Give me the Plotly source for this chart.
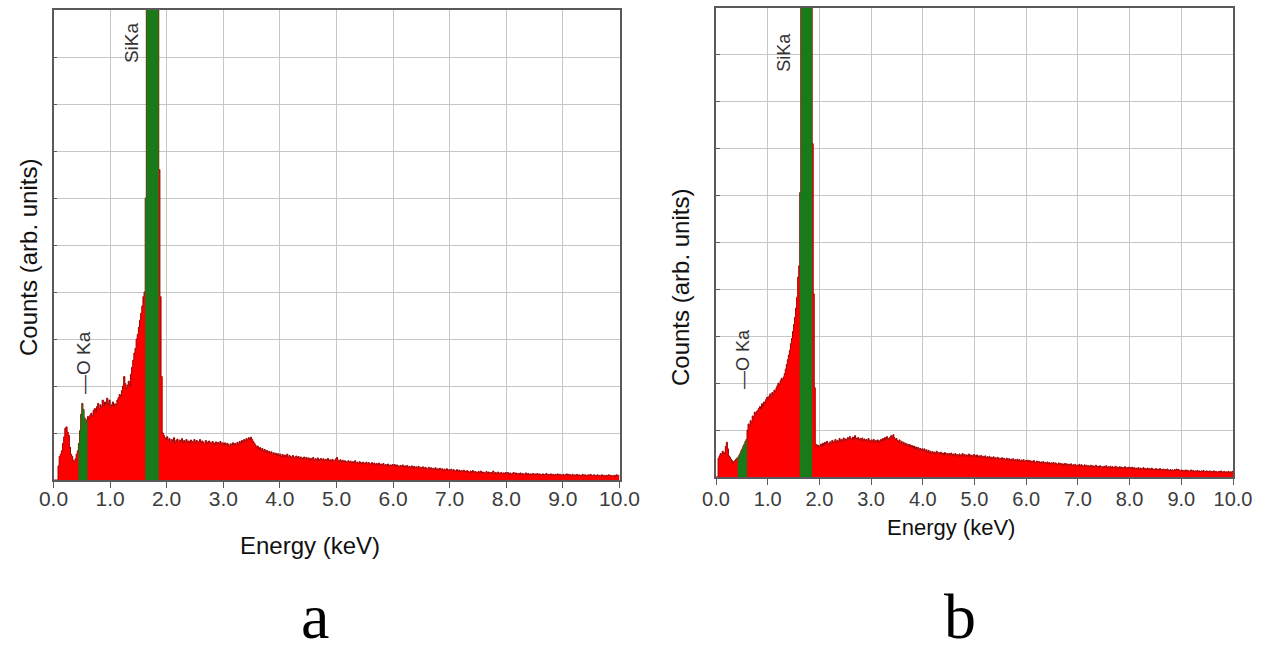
import plotly.graph_objects as go

# ---------------- data ----------------
CHANNEL_KEV = 0.02  # energy width of one spectrum channel

# panel a: counts per 0.02 keV channel (grid units), 0.0 -> 10.0 keV
counts_a = [
    0, 0, 0, 0, 0.3,  0.5, 0.55, 0.62, 0.78, 0.92,  1.1, 1.13, 1.02, 0.95, 0.7,  0.55, 0.5, 0.42, 0.38, 0.45,  0.55, 0.62, 0.78, 1.05, 1.4,
    1.63, 1.5, 1.32, 1.22, 1.28,  1.35, 1.3, 1.38, 1.42, 1.36,  1.48, 1.52, 1.43, 1.56, 1.63,  1.52, 1.6, 1.55, 1.7, 1.58,  1.66, 1.6, 1.74, 1.62, 1.7,
    1.55, 1.6, 1.66, 1.57, 1.62,  1.6, 1.7, 1.75, 1.82, 1.78,  1.9, 2.0, 2.2, 2.05, 1.95,  2.02, 2.1, 2.0, 2.25, 2.4,  2.55, 2.7, 2.8, 3.0, 3.1,
    3.25, 3.4, 3.55, 3.7, 3.9,  4.0, 6.0, 30, 30, 30,  30, 30, 30, 30, 30,  30, 30, 30, 6.6, 3.9,  2.2, 1.0, 0.95, 0.9, 0.86,
    0.92, 0.85, 0.88, 0.8, 0.86,  0.83, 0.9, 0.78, 0.84, 0.87,  0.8, 0.85, 0.82, 0.88, 0.79,  0.84, 0.81, 0.86, 0.8, 0.83,  0.78, 0.85, 0.82, 0.8, 0.86,
    0.8, 0.84, 0.77, 0.82, 0.86,  0.79, 0.83, 0.8, 0.76, 0.84,  0.81, 0.78, 0.83, 0.8, 0.77,  0.82, 0.79, 0.75, 0.81, 0.78,  0.8, 0.76, 0.82, 0.77, 0.79,
    0.75, 0.79, 0.73, 0.78, 0.76,  0.72, 0.77, 0.74, 0.79, 0.75,  0.78, 0.73, 0.8, 0.76, 0.82,  0.78, 0.84, 0.8, 0.86, 0.83,  0.88, 0.85, 0.9, 0.87, 0.91,
    0.86, 0.82, 0.78, 0.74, 0.7,  0.72, 0.66, 0.69, 0.64, 0.67,  0.62, 0.65, 0.6, 0.63, 0.58,  0.61, 0.57, 0.6, 0.55, 0.58,  0.54, 0.57, 0.53, 0.56, 0.52,
    0.55, 0.5, 0.54, 0.49, 0.53,  0.5, 0.55, 0.48, 0.52, 0.5,  0.47, 0.52, 0.49, 0.46, 0.51,  0.48, 0.5, 0.45, 0.49, 0.47,  0.44, 0.49, 0.46, 0.48, 0.44,
    0.47, 0.43, 0.46, 0.44, 0.48,  0.42, 0.45, 0.43, 0.47, 0.41,  0.44, 0.46, 0.42, 0.45, 0.41,  0.44, 0.42, 0.46, 0.4, 0.43,  0.41, 0.44, 0.4, 0.42, 0.45,
    0.48, 0.42, 0.4, 0.43, 0.39,  0.42, 0.38, 0.41, 0.39, 0.37,  0.41, 0.38, 0.4, 0.36, 0.39,  0.37, 0.41, 0.36, 0.38, 0.35,  0.39, 0.37, 0.34, 0.38, 0.36,
    0.35, 0.38, 0.34, 0.37, 0.35,  0.33, 0.37, 0.34, 0.36, 0.32,  0.35, 0.33, 0.36, 0.31, 0.34,  0.32, 0.35, 0.3, 0.33, 0.31,  0.34, 0.3, 0.32, 0.31, 0.33,
    0.3, 0.33, 0.29, 0.32, 0.3,  0.28, 0.31, 0.29, 0.32, 0.27,  0.3, 0.28, 0.31, 0.27, 0.29,  0.26, 0.3, 0.27, 0.29, 0.25,  0.28, 0.26, 0.29, 0.25, 0.27,
    0.26, 0.28, 0.24, 0.27, 0.25,  0.23, 0.27, 0.24, 0.26, 0.22,  0.25, 0.23, 0.26, 0.22, 0.24,  0.21, 0.25, 0.22, 0.24, 0.2,  0.23, 0.21, 0.24, 0.2, 0.22,
    0.21, 0.23, 0.19, 0.22, 0.2,  0.18, 0.22, 0.19, 0.21, 0.18,  0.2, 0.17, 0.21, 0.19, 0.17,  0.2, 0.18, 0.16, 0.19, 0.17,  0.2, 0.16, 0.18, 0.17, 0.15,
    0.18, 0.16, 0.19, 0.15, 0.17,  0.16, 0.14, 0.18, 0.15, 0.17,  0.14, 0.16, 0.15, 0.19, 0.14,  0.16, 0.13, 0.17, 0.15, 0.14,  0.16, 0.13, 0.15, 0.14, 0.16,
    0.14, 0.16, 0.13, 0.15, 0.12,  0.14, 0.16, 0.13, 0.15, 0.12,  0.14, 0.13, 0.15, 0.12, 0.14,  0.11, 0.13, 0.15, 0.12, 0.14,  0.11, 0.13, 0.12, 0.14, 0.11,
    0.13, 0.12, 0.14, 0.11, 0.13,  0.12, 0.1, 0.13, 0.11, 0.12,  0.14, 0.11, 0.12, 0.1, 0.13,  0.11, 0.12, 0.1, 0.12, 0.11,  0.13, 0.1, 0.12, 0.11, 0.1,
    0.12, 0.1, 0.11, 0.13, 0.1,  0.12, 0.11, 0.09, 0.12, 0.1,  0.11, 0.09, 0.12, 0.1, 0.11,  0.09, 0.1, 0.12, 0.09, 0.11,  0.1, 0.09, 0.11, 0.1, 0.12,
    0.1, 0.09, 0.11, 0.1, 0.08,  0.11, 0.09, 0.1, 0.08, 0.11,  0.09, 0.1, 0.08, 0.1, 0.09,  0.11, 0.08, 0.1, 0.09, 0.08,  0.1, 0.09, 0.11, 0.08, 0.1,
]

# panel b
counts_b = [
    0, 0, 0.4, 0.45, 0.5,  0.47, 0.55, 0.5, 0.52, 0.65,  0.74, 0.6, 0.45, 0.42, 0.38,  0.35, 0.3, 0.33, 0.35, 0.38,  0.4, 0.42, 0.46, 0.5, 0.56,
    0.6, 0.66, 0.7, 0.76, 0.8,  1.0, 1.13, 1.08, 1.2, 1.16,  1.3, 1.26, 1.38, 1.33, 1.4,  1.42, 1.46, 1.5, 1.45, 1.56,  1.5, 1.6, 1.57, 1.65, 1.7,
    1.66, 1.72, 1.77, 1.7, 1.8,  1.76, 1.85, 1.82, 1.9, 1.95,  2.0, 1.97, 2.05, 2.1, 2.06,  2.13, 2.2, 2.3, 2.4, 2.5,  2.6, 2.7, 2.84, 2.95, 3.1,
    3.25, 3.4, 3.6, 3.83, 4.26,  4.5, 6.06, 30, 30, 30,  30, 30, 30, 30, 30,  30, 30, 30, 7.1, 3.9,  1.9, 0.7, 0.66, 0.68, 0.64,
    0.66, 0.7, 0.65, 0.72, 0.68,  0.74, 0.7, 0.76, 0.72, 0.69,  0.75, 0.71, 0.78, 0.73, 0.76,  0.8, 0.74, 0.78, 0.75, 0.82,  0.77, 0.8, 0.76, 0.83, 0.79,
    0.81, 0.78, 0.84, 0.8, 0.86,  0.82, 0.79, 0.85, 0.81, 0.88,  0.83, 0.8, 0.84, 0.78, 0.82,  0.79, 0.83, 0.77, 0.81, 0.78,  0.8, 0.76, 0.82, 0.78, 0.75,
    0.79, 0.76, 0.8, 0.74, 0.78,  0.75, 0.79, 0.73, 0.77, 0.8,  0.76, 0.82, 0.78, 0.84, 0.8,  0.86, 0.82, 0.79, 0.85, 0.88,  0.83, 0.9, 0.84, 0.8, 0.82,
    0.78, 0.75, 0.79, 0.72, 0.76,  0.7, 0.74, 0.68, 0.72, 0.67,  0.7, 0.65, 0.69, 0.64, 0.67,  0.62, 0.66, 0.6, 0.64, 0.59,  0.63, 0.58, 0.61, 0.57, 0.6,
    0.56, 0.6, 0.54, 0.58, 0.53,  0.57, 0.52, 0.55, 0.5, 0.54,  0.51, 0.53, 0.49, 0.55, 0.5,  0.52, 0.48, 0.53, 0.49, 0.51,  0.47, 0.52, 0.48, 0.5, 0.46,
    0.5, 0.47, 0.51, 0.46, 0.49,  0.45, 0.5, 0.46, 0.48, 0.44,  0.49, 0.45, 0.47, 0.5, 0.45,  0.48, 0.44, 0.47, 0.45, 0.49,  0.44, 0.47, 0.43, 0.46, 0.48,
    0.46, 0.43, 0.47, 0.42, 0.45,  0.43, 0.46, 0.41, 0.44, 0.42,  0.45, 0.4, 0.43, 0.41, 0.44,  0.39, 0.42, 0.4, 0.43, 0.39,  0.41, 0.38, 0.42, 0.39, 0.4,
    0.38, 0.41, 0.37, 0.4, 0.38,  0.36, 0.4, 0.37, 0.39, 0.35,  0.38, 0.36, 0.39, 0.35, 0.37,  0.34, 0.38, 0.35, 0.37, 0.33,  0.36, 0.34, 0.37, 0.33, 0.35,
    0.34, 0.36, 0.33, 0.35, 0.32,  0.34, 0.31, 0.35, 0.32, 0.3,  0.34, 0.31, 0.33, 0.3, 0.32,  0.29, 0.33, 0.3, 0.31, 0.28,  0.32, 0.29, 0.31, 0.28, 0.3,
    0.29, 0.31, 0.27, 0.3, 0.28,  0.26, 0.3, 0.27, 0.29, 0.26,  0.28, 0.25, 0.29, 0.26, 0.28,  0.24, 0.27, 0.25, 0.28, 0.24,  0.26, 0.25, 0.27, 0.23, 0.25,
    0.25, 0.27, 0.23, 0.26, 0.24,  0.22, 0.26, 0.23, 0.25, 0.22,  0.24, 0.21, 0.25, 0.22, 0.24,  0.21, 0.23, 0.25, 0.21, 0.23,  0.2, 0.24, 0.21, 0.22, 0.2,
    0.23, 0.21, 0.24, 0.2, 0.22,  0.19, 0.23, 0.2, 0.22, 0.19,  0.21, 0.23, 0.19, 0.21, 0.18,  0.22, 0.19, 0.21, 0.18, 0.2,  0.22, 0.18, 0.2, 0.19, 0.21,
    0.2, 0.18, 0.21, 0.17, 0.2,  0.18, 0.19, 0.17, 0.2, 0.16,  0.19, 0.17, 0.18, 0.2, 0.16,  0.18, 0.17, 0.19, 0.16, 0.18,  0.15, 0.19, 0.16, 0.17, 0.15,
    0.18, 0.16, 0.17, 0.15, 0.18,  0.16, 0.14, 0.17, 0.15, 0.16,  0.14, 0.17, 0.15, 0.13, 0.16,  0.14, 0.15, 0.13, 0.16, 0.14,  0.17, 0.15, 0.16, 0.14, 0.13,
    0.15, 0.13, 0.14, 0.12, 0.15,  0.13, 0.14, 0.12, 0.13, 0.15,  0.12, 0.14, 0.12, 0.13, 0.11,  0.14, 0.12, 0.13, 0.11, 0.13,  0.12, 0.14, 0.11, 0.12, 0.13,
    0.12, 0.11, 0.13, 0.1, 0.12,  0.11, 0.13, 0.1, 0.12, 0.11,  0.1, 0.12, 0.11, 0.13, 0.1,  0.11, 0.12, 0.1, 0.11, 0.09,  0.12, 0.1, 0.11, 0.1, 0.12,
]

# element windows (ROI) highlighted in green, keV
roi_a = [(0.44, 0.60), (1.62, 1.86)]
roi_b = [(0.42, 0.60), (1.62, 1.86)]

x_tick_values = [0, 1, 2, 3, 4, 5, 6, 7, 8, 9, 10]
x_tick_labels = ["0.0", "1.0", "2.0", "3.0", "4.0", "5.0", "6.0", "7.0", "8.0", "9.0", "10.0"]
y_grid_values = [0, 1, 2, 3, 4, 5, 6, 7, 8, 9, 10]
panel_letters = ["a", "b"]
si_label = "SiKa"
o_label = "\u2014O Ka"
x_title = "Energy (keV)"
y_title = "Counts (arb. units)"

# ---------------- style ----------------
W, H = 1269, 653
RED = "#ff0000"
EDGE = "#a00000"
GREEN = "#187a18"
GRID = "#c6c6c6"
FRAME = "#5a5a5a"
SANS = "Liberation Sans, Arial, sans-serif"
SERIF = "Liberation Serif, Times New Roman, serif"


def pxx(p):
    return p / W


def pxy(p):
    return 1 - p / H


panels = [
    dict(counts=counts_a, roi=roi_a, box=(53.5, 619.5, 10, 480), tick=21, standoff=-7,
         xtitle=24, ytitle=24,
         ytitle_pos=(28, 258), xtitle_pos=(310, 545), letter_pos=(315, 616),
         si_pos=(1.39, 9.3), o_pos=(0.53, 2.5), label=19),
    dict(counts=counts_b, roi=roi_b, box=(716, 1233, 7.5, 477), tick=20, standoff=-3,
         xtitle=22, ytitle=24,
         ytitle_pos=(680, 288), xtitle_pos=(951, 527), letter_pos=(960, 616),
         si_pos=(1.31, 9.05), o_pos=(0.51, 2.52), label=18),
]

fig = go.Figure()
annotations = []
layout = {}


def note(x, y, text, font, xref="paper", yref="paper", angle=0):
    return dict(x=x, y=y, xref=xref, yref=yref, text=text, textangle=angle,
                showarrow=False, xanchor="center", yanchor="middle", font=font)


for i, p in enumerate(panels):
    sfx = "" if i == 0 else str(i + 1)
    xa, ya = "x" + sfx, "y" + sfx
    counts = p["counts"]
    n = len(counts)
    edges = [round(k * CHANNEL_KEV, 4) for k in range(n + 1)]

    # full spectrum (red)
    fig.add_trace(go.Scatter(
        x=edges, y=counts + [counts[-1]], mode="lines",
        line=dict(shape="hv", color=EDGE, width=1),
        fill="tozeroy", fillcolor=RED, xaxis=xa, yaxis=ya,
        hoverinfo="skip", showlegend=False))

    # element windows (green)
    for lo, hi in p["roi"]:
        k0 = int(round(lo / CHANNEL_KEV))
        k1 = int(round(hi / CHANNEL_KEV))
        seg = counts[k0:k1]
        fig.add_trace(go.Scatter(
            x=edges[k0:k1] + [edges[k1]], y=seg + [seg[-1]], mode="lines",
            line=dict(shape="hv", color=GREEN, width=0),
            fill="tozeroy", fillcolor=GREEN, xaxis=xa, yaxis=ya,
            hoverinfo="skip", showlegend=False))

    x0, x1, y0, y1 = p["box"]
    layout["xaxis" + sfx] = dict(
        domain=[pxx(x0), pxx(x1)], range=[0, 10], anchor=ya, automargin=False,
        tickmode="array", tickvals=x_tick_values, ticktext=x_tick_labels,
        ticks="outside", ticklen=6, tickwidth=1, tickcolor=FRAME,
        ticklabelstandoff=p["standoff"],
        tickfont=dict(family=SANS, size=p["tick"], color="#3c3c3c"),
        showgrid=True, gridcolor=GRID, gridwidth=1, zeroline=False,
        showline=True, linecolor=FRAME, linewidth=1.5, mirror=True,
        fixedrange=True)
    layout["yaxis" + sfx] = dict(
        domain=[pxy(y1), pxy(y0)], range=[0, 10], anchor=xa, automargin=False,
        tickmode="array", tickvals=y_grid_values, showticklabels=False,
        ticks="inside", ticklen=4, tickcolor=FRAME,
        showgrid=True, gridcolor=GRID, gridwidth=1, zeroline=False,
        showline=True, linecolor=FRAME, linewidth=1.5, mirror=True,
        fixedrange=True)

    annotations.append(note(pxx(p["ytitle_pos"][0]), pxy(p["ytitle_pos"][1]), y_title,
                            dict(family=SANS, size=p["ytitle"], color="#111111"), angle=-90))
    annotations.append(note(pxx(p["xtitle_pos"][0]), pxy(p["xtitle_pos"][1]), x_title,
                            dict(family=SANS, size=p["xtitle"], color="#111111")))
    annotations.append(note(pxx(p["letter_pos"][0]), pxy(p["letter_pos"][1]), panel_letters[i],
                            dict(family=SERIF, size=64, color="#000000")))
    annotations.append(note(p["si_pos"][0], p["si_pos"][1], si_label,
                            dict(family=SANS, size=p["label"], color="#333333"),
                            xref=xa, yref=ya, angle=-90))
    annotations.append(note(p["o_pos"][0], p["o_pos"][1], o_label,
                            dict(family=SANS, size=p["label"], color="#333333"),
                            xref=xa, yref=ya, angle=-90))

fig.update_layout(
    width=W, height=H, autosize=False,
    margin=dict(l=0, r=0, t=0, b=0, pad=0, autoexpand=False),
    paper_bgcolor="white", plot_bgcolor="white",
    showlegend=False, annotations=annotations,
    **layout)

fig.write_html("out.html", config={"displayModeBar": False},
               post_script="document.body.style.margin='0';document.body.style.overflow='hidden';")
